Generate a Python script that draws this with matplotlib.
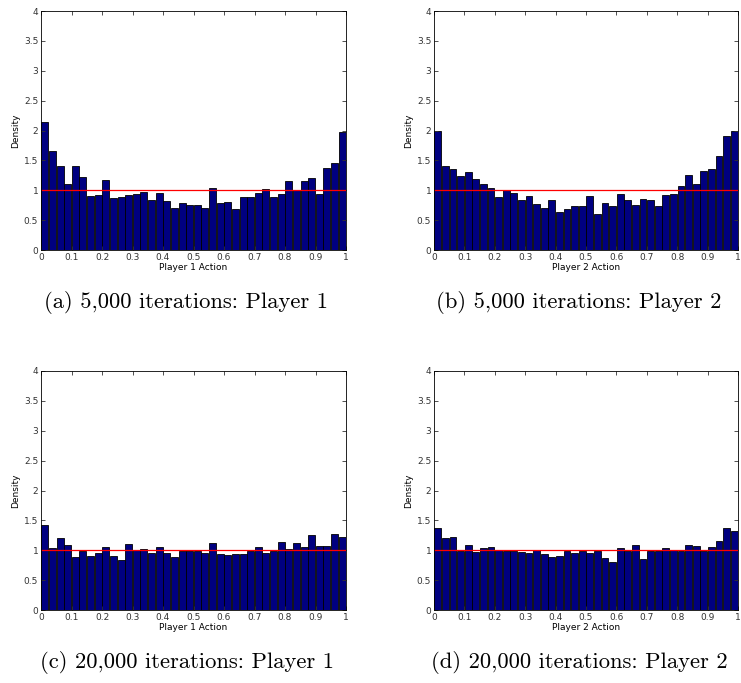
import matplotlib
matplotlib.use("Agg")
import matplotlib.pyplot as plt
import numpy as np

# bin heights (40 bins on [0, 1])
p1_5000 = [2.15, 1.65, 1.40, 1.11, 1.41, 1.23, 0.91, 0.92, 1.17, 0.87,
           0.89, 0.92, 0.94, 0.97, 0.84, 0.96, 0.82, 0.70, 0.79, 0.75,
           0.75, 0.70, 1.04, 0.78, 0.81, 0.69, 0.88, 0.89, 0.95, 1.02,
           0.89, 0.93, 1.15, 1.01, 1.15, 1.20, 0.93, 1.38, 1.45, 1.98]
p2_5000 = [2.00, 1.40, 1.36, 1.24, 1.31, 1.19, 1.11, 1.04, 0.88, 1.01,
           0.95, 0.84, 0.90, 0.77, 0.70, 0.84, 0.63, 0.69, 0.74, 0.74,
           0.90, 0.61, 0.79, 0.74, 0.93, 0.83, 0.76, 0.86, 0.84, 0.74,
           0.92, 0.94, 1.07, 1.25, 1.10, 1.32, 1.35, 1.57, 1.91, 2.00]
p1_20000 = [1.42, 1.03, 1.21, 1.08, 0.89, 0.99, 0.90, 0.95, 1.05, 0.90,
            0.84, 1.11, 1.01, 1.02, 0.95, 1.05, 0.96, 0.88, 0.98, 0.98,
            0.99, 0.96, 1.12, 0.93, 0.92, 0.94, 0.93, 0.99, 1.05, 0.96,
            0.99, 1.14, 1.02, 1.12, 1.05, 1.25, 1.07, 1.07, 1.27, 1.22]
p2_20000 = [1.38, 1.21, 1.23, 0.99, 1.09, 0.97, 1.04, 1.05, 1.01, 0.99,
            0.99, 0.97, 0.96, 1.01, 0.94, 0.89, 0.90, 0.99, 0.96, 0.99,
            0.96, 0.99, 0.87, 0.80, 1.04, 0.99, 1.09, 0.86, 0.99, 0.98,
            1.03, 1.01, 0.99, 1.09, 1.07, 0.99, 1.05, 1.16, 1.37, 1.32]

panels = [
    (p1_5000, "Player 1 Action", "(a) 5,000 iterations: Player 1"),
    (p2_5000, "Player 2 Action", "(b) 5,000 iterations: Player 2"),
    (p1_20000, "Player 1 Action", "(c) 20,000 iterations: Player 1"),
    (p2_20000, "Player 2 Action", "(d) 20,000 iterations: Player 2"),
]

W, H = 741, 683
fig = plt.figure(figsize=(W / 100, H / 100), dpi=100)

# axes boxes in pixels: left, top, right, bottom
boxes = [(41, 11, 346, 250), (434, 11, 738, 250),
         (41, 371, 346, 610), (434, 371, 738, 610)]

for (vals, xlab, cap), (l, t, r, b) in zip(panels, boxes):
    ax = fig.add_axes([l / W, 1 - b / H, (r - l) / W, (b - t) / H])
    n = len(vals)
    edges = np.linspace(0, 1, n + 1)
    w = edges[1] - edges[0]
    ax.bar(edges[:-1] + w / 2, vals, width=w * 0.92, color="#000080",
           edgecolor="black", linewidth=0.6)
    ax.plot([0, 1], [1, 1], color="red", linewidth=0.9)
    ax.set_xlim(0, 1)
    ax.set_ylim(0, 4)
    ax.set_xticks(np.arange(0, 1.01, 0.1))
    ax.set_xticklabels(["0", "0.1", "0.2", "0.3", "0.4", "0.5", "0.6",
                        "0.7", "0.8", "0.9", "1"])
    ax.set_yticks(np.arange(0, 4.01, 0.5))
    ax.set_yticklabels(["0", "0.5", "1", "1.5", "2", "2.5", "3", "3.5", "4"])
    ax.tick_params(direction="in", top=True, right=True, labelsize=6.5,
                   length=3, width=0.6, colors="#333333", pad=2)
    for s in ax.spines.values():
        s.set_linewidth(0.6)
    ax.set_xlabel(xlab, fontsize=6.5, labelpad=1)
    ax.set_ylabel("Density", fontsize=6.5, labelpad=3)
    # subfigure caption, a little left of the axes centre
    fig.text(((l + r) / 2 - 7) / W, 1 - (b + 53) / H, cap, family="cmr10",
             fontsize=16.3, ha="center", va="center")

fig.savefig("out.png", dpi=100)
